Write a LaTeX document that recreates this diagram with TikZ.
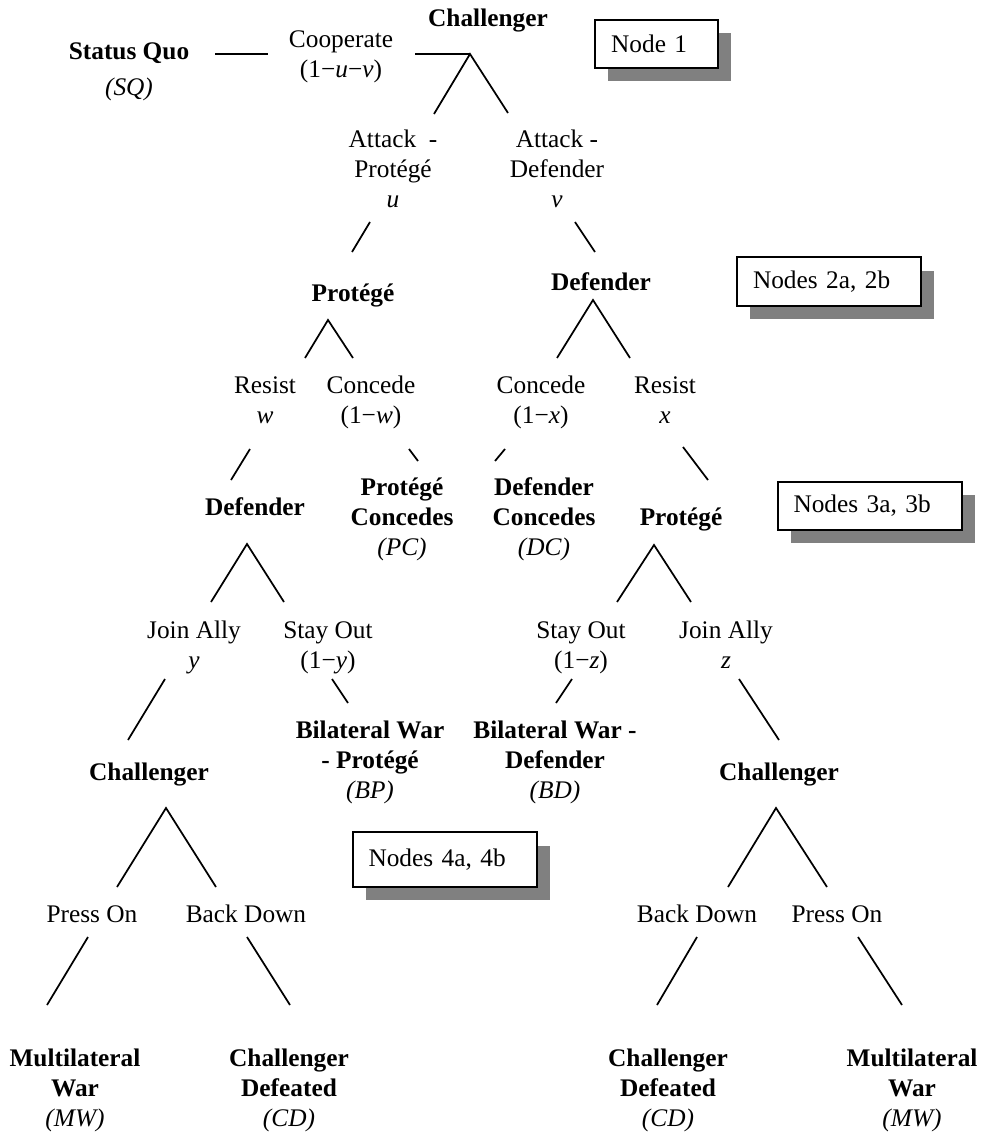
\documentclass[tikz,border=0pt]{standalone}
\usepackage{fontspec}
\setmainfont{Liberation Serif}
\usetikzlibrary{shadows}
\newcommand{\mainsize}{\fontsize{19bp}{22.5bp}\selectfont}
\newcommand{\outc}[1]{\textmd{\textit{(#1)}}}

\begin{document}
\begin{tikzpicture}[x=0.75bp,y=-0.75bp,
  every node/.style={font=\mainsize,inner sep=0pt,anchor=base,align=center},
  player/.style={font=\mainsize\bfseries},
  branch/.style={line width=1.3bp},
  nodebox/.style={draw,line width=1.5bp,fill=white,anchor=center,align=left,
    inner xsep=12bp,minimum height=36bp,text width=114bp,
    drop shadow={shadow xshift=9.75bp,shadow yshift=-10bp,
      fill=black!50,opacity=1}}]
  \useasboundingbox (0,0) rectangle (984,1135);

  % players and moves (placed by the baseline of their last line)
  \node[player] (sq) at (129,96) {Status Quo\\[5bp]\outc{SQ}};
  \node (coop) at (341,78) {Cooperate\\(1−\textit{u}−\textit{v})};
  \node[player] (ch1) at (488,27) {Challenger};
  \node (atp) at (393,208) {Attack\ \ -\\Protégé\\\textit{u}};
  \node (atd) at (557,208) {Attack -\\Defender\\\textit{v}};
  \node[player] (pr2) at (353,302) {Protégé};
  \node[player] (df2) at (601,291) {Defender};
  \node (resw) at (265,423) {Resist\\\textit{w}};
  \node (conw) at (371,423) {Concede\\(1−\textit{w})};
  \node (conx) at (541,423) {Concede\\(1−\textit{x})};
  \node (resx) at (665,423) {Resist\\\textit{x}};
  \node[player] (df3) at (255,515) {Defender};
  \node[player] (pc) at (402,555) {Protégé\\Concedes\\\outc{PC}};
  \node[player] (dc) at (544,555) {Defender\\Concedes\\\outc{DC}};
  \node[player] (pr3) at (681,525) {Protégé};
  \node (joiny) at (194,668) {Join Ally\\\textit{y}};
  \node (stayy) at (328,668) {Stay Out\\(1−\textit{y})};
  \node (stayz) at (581,668) {Stay Out\\(1−\textit{z})};
  \node (joinz) at (726,668) {Join Ally\\\textit{z}};
  \node[player] (bp) at (370,798) {Bilateral War\\- Protégé\\\outc{BP}};
  \node[player] (bd) at (555,798) {Bilateral War -\\Defender\\\outc{BD}};
  \node[player] (ch4l) at (149,780) {Challenger};
  \node[player] (ch4r) at (779,780) {Challenger};
  \node (pressl) at (92,922) {Press On};
  \node (backl) at (246,922) {Back Down};
  \node (backr) at (697,922) {Back Down};
  \node (pressr) at (837,922) {Press On};
  \node[player] (mwl) at (75,1126) {Multilateral\\War\\\outc{MW}};
  \node[player] (cdl) at (289,1126) {Challenger\\Defeated\\\outc{CD}};
  \node[player] (cdr) at (668,1126) {Challenger\\Defeated\\\outc{CD}};
  \node[player] (mwr) at (912,1126) {Multilateral\\War\\\outc{MW}};

  % stage boxes
  \node[nodebox,text width=68bp] (n1) at (656.5,44) {Node 1};
  \node[nodebox] (n2) at (829,281.5) {Nodes 2a, 2b};
  \node[nodebox] (n3) at (869.5,505.5) {Nodes 3a, 3b};
  \node[nodebox,minimum height=41bp] (n4) at (444.5,859.5) {Nodes 4a, 4b};

  % ends of the branches
  \foreach \n/\p in {sq-e/{215,54}, coop-w/{268,54}, coop-e/{415,54},
      ch1-a/{470,54}, atp-n/{434,114}, atd-n/{508,113},
      atp-s/{370,222}, pr2-n/{352,252}, atd-s/{575,222}, df2-n/{595,252},
      pr2-a/{328,320}, resw-n/{305,358}, conw-n/{353,358},
      df2-a/{593,300}, conx-n/{557,358}, resx-n/{630,358},
      resw-s/{250,449}, df3-n/{231,480}, conw-s/{409,449}, pc-n/{418,461},
      conx-s/{505,449}, dc-n/{495,461}, resx-s/{683,447}, pr3-n/{708,480},
      df3-a/{247,544}, joiny-n/{211,602}, stayy-n/{284,602},
      pr3-a/{654,545}, stayz-n/{617,602}, joinz-n/{691,602},
      joiny-s/{165,679}, ch4l-n/{128,740}, stayy-s/{332,679}, bp-n/{348,703},
      stayz-s/{572,679}, bd-n/{556,703}, joinz-s/{739,679}, ch4r-n/{779,740},
      ch4l-a/{166,808}, pressl-n/{117,887}, backl-n/{216,887},
      ch4r-a/{776,808}, backr-n/{728,887}, pressr-n/{827,887},
      pressl-s/{88,937}, mwl-n/{47,1005}, backl-s/{247,937}, cdl-n/{290,1005},
      backr-s/{697,937}, cdr-n/{657,1005}, pressr-s/{858,937}, mwr-n/{902,1005}}
    \coordinate (\n) at (\p);

  % branches
  \draw[branch] (sq-e) -- (coop-w);
  \draw[branch] (coop-e) -- (ch1-a);
  \foreach \a/\l/\r in {ch1-a/atp-n/atd-n, pr2-a/resw-n/conw-n,
      df2-a/conx-n/resx-n, df3-a/joiny-n/stayy-n, pr3-a/stayz-n/joinz-n,
      ch4l-a/pressl-n/backl-n, ch4r-a/backr-n/pressr-n}
    \draw[branch] (\l) -- (\a) -- (\r);
  \foreach \a/\b in {atp-s/pr2-n, atd-s/df2-n, resw-s/df3-n, conw-s/pc-n,
      conx-s/dc-n, resx-s/pr3-n, joiny-s/ch4l-n, stayy-s/bp-n,
      stayz-s/bd-n, joinz-s/ch4r-n, pressl-s/mwl-n, backl-s/cdl-n,
      backr-s/cdr-n, pressr-s/mwr-n}
    \draw[branch] (\a) -- (\b);
\end{tikzpicture}
\end{document}
